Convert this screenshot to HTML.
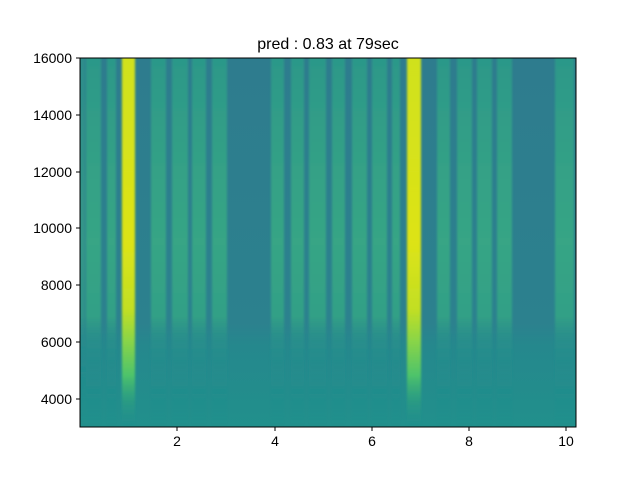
<!DOCTYPE html>
<html><head><style>
body{margin:0;background:#fff;}
svg{display:block;font-family:"Liberation Sans","DejaVu Sans",sans-serif;}
</style></head><body>
<svg width="640" height="480" viewBox="0 0 640 480" xmlns="http://www.w3.org/2000/svg">
<defs>
<linearGradient id="bg" x1="0" y1="58" x2="0" y2="427" gradientUnits="userSpaceOnUse">
<stop offset="0" stop-color="#2e7c8e"/>
<stop offset="0.72" stop-color="#2c818e"/>
<stop offset="0.78" stop-color="#25888d"/>
<stop offset="1" stop-color="#21908c"/>
</linearGradient>
<linearGradient id="br" x1="0" y1="58" x2="0" y2="427" gradientUnits="userSpaceOnUse">
<stop offset="0" stop-color="#2c9889"/>
<stop offset="0.3" stop-color="#34a186"/>
<stop offset="0.5" stop-color="#37a585"/>
<stop offset="0.7" stop-color="#32a086"/>
<stop offset="0.76" stop-color="#2a948a" stop-opacity="0.6"/>
<stop offset="0.84" stop-color="#23908c" stop-opacity="0.2"/>
<stop offset="1" stop-color="#23908c" stop-opacity="0"/>
</linearGradient>
<linearGradient id="ye" x1="0" y1="58" x2="0" y2="427" gradientUnits="userSpaceOnUse">
<stop offset="0" stop-color="#d0e11c"/>
<stop offset="0.5" stop-color="#dde318"/>
<stop offset="0.68" stop-color="#c2df23"/>
<stop offset="0.76" stop-color="#8ed645"/>
<stop offset="0.86" stop-color="#4ec36b"/>
<stop offset="0.93" stop-color="#2fa47d" stop-opacity="0.6"/>
<stop offset="1" stop-color="#23908c" stop-opacity="0"/>
</linearGradient>
<filter id="bl" x="60" y="40" width="540" height="410" filterUnits="userSpaceOnUse"><feGaussianBlur stdDeviation="1 0"/></filter>
<clipPath id="cp"><rect x="80" y="58" width="496" height="369"/></clipPath>
</defs>
<rect x="80" y="58" width="496" height="369" fill="url(#bg)"/>
<g clip-path="url(#cp)">
<g filter="url(#bl)">
<g fill="url(#br)">
<rect x="79" y="58" width="6" height="369" opacity="0.6"/>
<rect x="86" y="58" width="15" height="369"/>
<rect x="107" y="58" width="9" height="369"/>
<rect x="151" y="58" width="15" height="369"/>
<rect x="172" y="58" width="16" height="369"/>
<rect x="192" y="58" width="14" height="369"/>
<rect x="212" y="58" width="15" height="369"/>
<rect x="271" y="58" width="13" height="369"/>
<rect x="291" y="58" width="13" height="369"/>
<rect x="309" y="58" width="17" height="369"/>
<rect x="332" y="58" width="13" height="369"/>
<rect x="352" y="58" width="15" height="369"/>
<rect x="372" y="58" width="15" height="369"/>
<rect x="392" y="58" width="8" height="369"/>
<rect x="437" y="58" width="13" height="369"/>
<rect x="457" y="58" width="15" height="369"/>
<rect x="477" y="58" width="15" height="369"/>
<rect x="497" y="58" width="15" height="369"/>
<rect x="555" y="58" width="19" height="369"/>
</g>
<g fill="url(#ye)">
<rect x="122" y="58" width="13" height="369"/>
<rect x="407" y="58" width="14" height="369"/>
</g>
</g>
</g>
<rect x="80" y="58" width="496" height="369" fill="none" stroke="#000" stroke-width="1"/>
<g stroke="#000" stroke-width="1">
<line x1="177" y1="427" x2="177" y2="431"/>
<line x1="275" y1="427" x2="275" y2="431"/>
<line x1="372" y1="427" x2="372" y2="431"/>
<line x1="469" y1="427" x2="469" y2="431"/>
<line x1="566" y1="427" x2="566" y2="431"/>
<line x1="76" y1="58" x2="80" y2="58"/>
<line x1="76" y1="115" x2="80" y2="115"/>
<line x1="76" y1="172" x2="80" y2="172"/>
<line x1="76" y1="228" x2="80" y2="228"/>
<line x1="76" y1="285" x2="80" y2="285"/>
<line x1="76" y1="342" x2="80" y2="342"/>
<line x1="76" y1="399" x2="80" y2="399"/>
</g>
<g font-size="14" fill="#000" text-anchor="middle">
<text x="177" y="446">2</text>
<text x="275" y="446">4</text>
<text x="372" y="446">6</text>
<text x="469" y="446">8</text>
<text x="566" y="446">10</text>
</g>
<g font-size="14" fill="#000" text-anchor="end">
<text x="72" y="63">16000</text>
<text x="72" y="120">14000</text>
<text x="72" y="177">12000</text>
<text x="72" y="233">10000</text>
<text x="72" y="290">8000</text>
<text x="72" y="347">6000</text>
<text x="72" y="404">4000</text>
</g>
<text x="328" y="49" font-size="16" text-anchor="middle" fill="#000">pred : 0.83 at 79sec</text>
</svg>
</body></html>
